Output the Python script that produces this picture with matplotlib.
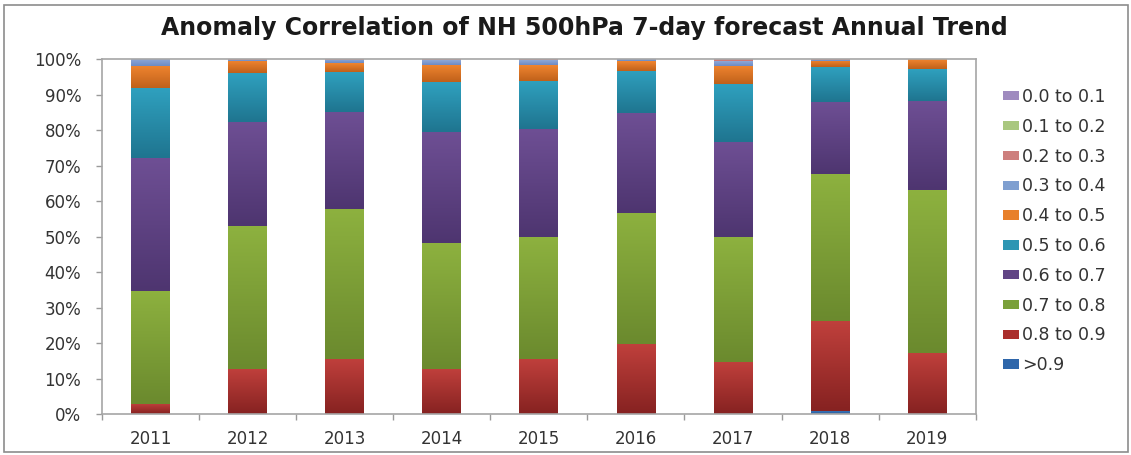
import numpy as np
import matplotlib
matplotlib.use("Agg")
import matplotlib.pyplot as plt
from matplotlib.colors import LinearSegmentedColormap
from matplotlib.patches import Rectangle

plt.rcParams["font.family"] = ["DejaVu Sans"]

# chart values (percent of days per correlation band)
years = ["2011", "2012", "2013", "2014", "2015", "2016", "2017", "2018", "2019"]
bands = [">0.9", "0.8 to 0.9", "0.7 to 0.8", "0.6 to 0.7", "0.5 to 0.6",
         "0.4 to 0.5", "0.3 to 0.4", "0.2 to 0.3", "0.1 to 0.2", "0.0 to 0.1"]

gt_09 = [0, 0, 0, 0, 0, 0, 0, 0.9, 0]
b_08_09 = [2.9, 12.7, 15.5, 12.7, 15.5, 19.8, 14.8, 25.4, 17.3]
b_07_08 = [31.9, 40.2, 42.3, 35.4, 34.3, 36.9, 35.0, 41.3, 45.7]
b_06_07 = [37.4, 29.5, 27.4, 31.4, 30.4, 28.0, 26.9, 20.4, 25.3]
b_05_06 = [19.6, 13.6, 11.1, 14.0, 13.6, 11.9, 16.2, 9.7, 8.8]
b_04_05 = [6.3, 3.4, 2.5, 4.8, 4.5, 2.8, 5.2, 1.7, 2.8]
b_03_04 = [1.9, 0.4, 1.0, 1.3, 1.3, 0.6, 1.2, 0.4, 0.1]
b_02_03 = [0, 0.2, 0.2, 0.4, 0.4, 0, 0.7, 0.2, 0]
b_01_02 = [0, 0, 0, 0, 0, 0, 0, 0, 0]
b_00_01 = [0, 0, 0, 0, 0, 0, 0, 0, 0]

series = [gt_09, b_08_09, b_07_08, b_06_07, b_05_06,
          b_04_05, b_03_04, b_02_03, b_01_02, b_00_01]

yticks = [0, 10, 20, 30, 40, 50, 60, 70, 80, 90, 100]
ytick_labels = ["0%", "10%", "20%", "30%", "40%", "50%", "60%", "70%", "80%", "90%", "100%"]

# (top colour, bottom colour, legend colour) - Excel style shaded fills
shades = [
    ("#3B78C0", "#2A5C9A", "#2E66AA"),
    ("#C0403C", "#862221", "#AA2E2C"),
    ("#8DB13F", "#6B8A2E", "#7AA03A"),
    ("#6E4F94", "#4E3570", "#614585"),
    ("#2FA0BE", "#1F7590", "#2E96B3"),
    ("#F08530", "#C0611A", "#E8802A"),
    ("#8FA8D8", "#6D8BC4", "#7F9FD0"),
    ("#E09A98", "#C97270", "#CD7F7D"),
    ("#BBD58E", "#9BBB59", "#A9C77F"),
    ("#AC98C8", "#8C76B0", "#9F8BBF"),
]

W, H = 1131, 455
fig = plt.figure(figsize=(W / 100, H / 100), dpi=100)
ax = fig.add_axes([102 / W, 1 - 414.3 / H, (975.7 - 102) / W, (414.3 - 59) / H])

x = np.arange(len(years))
bottom = np.zeros(len(years))
grad = np.linspace(0, 1, 64).reshape(-1, 1)

for vals, label, (top_c, bot_c, leg_c) in zip(series, bands, shades):
    vals = np.array(vals)
    bars = ax.bar(x, vals, 0.4, bottom=bottom, color=leg_c, label=label,
                  linewidth=0, zorder=2)
    cmap = LinearSegmentedColormap.from_list("g", [bot_c, top_c])
    for p in bars:
        if p.get_height() <= 0:
            continue
        x0, y0 = p.get_x(), p.get_y()
        im = ax.imshow(grad, extent=(x0, x0 + p.get_width(), y0, y0 + p.get_height()),
                       origin="lower", cmap=cmap, aspect="auto", zorder=2.5,
                       interpolation="bilinear")
        im.set_clip_path(p)
    bottom += vals

ax.set_xlim(-0.5, len(years) - 0.5)
ax.set_ylim(0, 100)

ax.set_yticks(yticks)
ax.set_yticklabels(ytick_labels)
ax.set_xticks(x)
ax.set_xticklabels(years)
ax.set_xticks(np.arange(len(years) + 1) - 0.5, minor=True)

ax.tick_params(axis="x", which="major", length=0, pad=11, labelsize=12, labelcolor="#333333")
ax.tick_params(axis="x", which="minor", length=4.5, width=1, color="#9a9a9a", direction="out")
ax.tick_params(axis="y", length=4.5, width=1, color="#9a9a9a", pad=10.5,
               labelsize=12, labelcolor="#333333")

for side in ["left", "bottom", "top", "right"]:
    ax.spines[side].set_color("#a6a6a6")
    ax.spines[side].set_linewidth(1.2)

handles, labels = ax.get_legend_handles_labels()
fig.legend(handles[::-1], labels[::-1], loc="upper left",
           bbox_to_anchor=(1003 / W, 1 - 88 / H), frameon=False,
           fontsize=12.5, labelcolor="#333333", borderpad=0, borderaxespad=0,
           handlelength=0.9, handleheight=0.45, handletextpad=0.2, labelspacing=0.68)

fig.text(584 / W, 1 - 28 / H, "Anomaly Correlation of NH 500hPa 7-day forecast Annual Trend",
         ha="center", va="center", fontsize=17, fontweight="bold", color="#1a1a1a")

# chart-area frame
fig.patches.append(Rectangle((4 / W, 3 / H), 1124 / W, 447 / H, transform=fig.transFigure,
                             fill=False, edgecolor="#8c8c8c", linewidth=1.2))

fig.savefig("out.png", dpi=100)
